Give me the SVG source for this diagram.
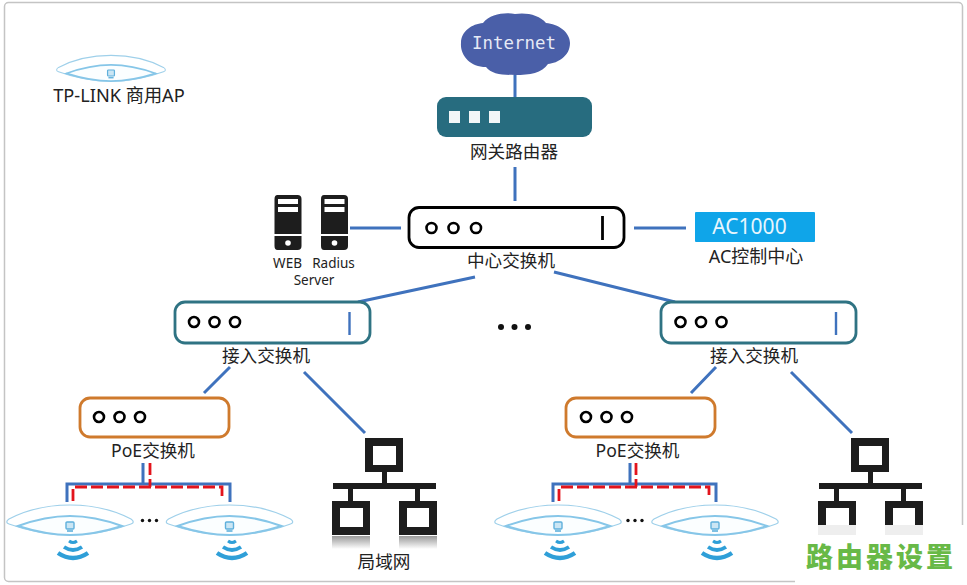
<svg xmlns="http://www.w3.org/2000/svg" width="967" height="585" viewBox="0 0 967 585">
<style>
text{font-family:"Noto Sans","Noto Sans CJK SC",sans-serif;fill:#222;text-anchor:middle;font-size:17.6px}
.c{stroke:#3f72bd;stroke-width:3;fill:none}
.d{fill:none;stroke:#000;stroke-width:2.6}
.b{fill:#fff;stroke-width:2.8}
.k{fill:#1d1d1d}
.r{fill:none;stroke:#e3141c;stroke-width:2.8;stroke-dasharray:12 4}
.s{font-size:13.5px}
</style>
<defs>
<g id="ap">
<path d="M-61,-3C-42,-13 -20,-17 0,-17C20,-17 42,-13 61,-3C64,-1 64,1 61,2C42,9 20,13 0,13C-20,13 -42,9 -61,2C-64,1 -64,-1 -61,-3Z" fill="#fff" stroke="#9fd0ea" stroke-width="1.200"/>
<path d="M-52,4C-30,-4 -12,-6 0,-6C12,-6 30,-4 52,4C30,11 14,13 0,13C-14,13 -30,11 -52,4Z" fill="#fbfeff" stroke="#86c6e8" stroke-width="2"/>
<rect x="-4" y="0" width="8" height="7" rx="1" fill="#cbe6f4" stroke="#5fb0dc" stroke-width="1.400"/>
<path d="M-3,9H3" stroke="#5fb0dc" stroke-width="1.600"/>
</g>
<g id="wifi" fill="none" stroke="#2f9fd8">
<path d="M-15,1Q0,11 15,1" stroke-width="4.400"/>
<path d="M-9,-5Q0,1 9,-5" stroke-width="3.800"/>
<path d="M-4,-11Q0,-8 4,-11" stroke-width="3"/>
</g>
<g id="srv">
<path d="M3,0H23Q27,0 27,4V39H0V4Q0,0 3,0Z" class="k"/>
<path d="M0,41H27V51Q27,55 23,55H3Q0,55 0,51Z" class="k"/>
<rect x="3.500" y="4" width="20" height="5" fill="#fff"/>
<rect x="3.500" y="12" width="20" height="5" fill="#fff"/>
<circle cx="13.500" cy="48" r="2.800" fill="#fff"/>
</g>
<g id="dots" class="d">
<circle cx="0" cy="0" r="5"/><circle cx="20.500" cy="0" r="5"/><circle cx="41" cy="0" r="5"/>
</g>
<linearGradient id="ref" x1="0" y1="0" x2="0" y2="1"><stop offset="0" stop-color="#999"/><stop offset="1" stop-color="#fff"/></linearGradient>
<path id="lan" fill-rule="evenodd" class="k" d="M33,0H71V34H55V45H104V51H88V63H105V97H67V63H83V51H21V63H38V97H0V63H16V51H1V45H50V34H33ZM41,8V27H64V8ZM8,70V89H31V70ZM75,70V89H97V70Z"/>
</defs>
<rect x="4.500" y="2.500" width="958" height="579" rx="4" fill="#fff" stroke="#c4c4c4" stroke-width="1.500"/>

<g id="connectors">
<path class="c" d="M515,75V97M515,167V201M350,228H401M634,228H686M475,277L358,302M554,272L675,302M230,367L204,393M304,372L365,433M716,367L691,393M791,372L852,433"/>
<path class="c" d="M143,463V484M67,502V484H230V502M630,463V484M553,502V484H716V502"/>
<path class="r" d="M150,463V487M73,501V487H222V496"/>
<path class="r" d="M636,463V487M559,501V487H709V496"/>
</g>

<g id="internet">
<path d="M486,67C470,67 460,55 461,43C461,31 472,24 483,23C490,14 505,12 515,14C526,12 540,15 546,23C558,24 570,32 570,43C570,56 558,63 548,64C542,73 530,75 515,75C502,75 491,74 486,67Z" fill="#4a5fa8"/>
<text x="514" y="49" style="font-family:'DejaVu Sans Mono',monospace;font-size:17.400px;fill:#e6eaf6">Internet</text>
</g>
<g id="router">
<rect x="437" y="97" width="155" height="40" rx="9" fill="#276c7f"/>
<rect x="449" y="111" width="11" height="12" fill="#f2f6f7"/><rect x="469" y="111" width="11" height="12" fill="#f2f6f7"/><rect x="489" y="111" width="11" height="12" fill="#f2f6f7"/>
<text x="514" y="158">网关路由器</text>
</g>
<g id="servers">
<use href="#srv" x="274.500" y="195"/><use href="#srv" x="321" y="195"/>
<text x="287.500" y="268" class="s">WEB</text>
<text x="333.500" y="268" class="s">Radius</text>
<text x="314" y="285" class="s">Server</text>
</g>
<g id="core">
<rect x="409" y="207.500" width="215" height="40" rx="10" class="b" stroke="#000"/>
<g class="d"><circle cx="431.500" cy="228" r="5"/><circle cx="453.500" cy="228" r="5"/><circle cx="476" cy="228" r="5"/></g>
<path d="M602.500,216V240" stroke="#000" stroke-width="2.800"/>
<text x="511" y="267">中心交换机</text>
</g>
<g id="ac">
<rect x="695" y="212" width="120" height="30" rx="1" fill="#0fa5e9"/>
<text x="749.500" y="234" style="font-size:21px;fill:#e8f6fd">AC1000</text>
<text x="756" y="263" style="font-size:18px">AC控制中心</text>
</g>
<g id="access1">
<rect x="175" y="302" width="195" height="41" rx="10" class="b" stroke="#2f7383"/>
<use href="#dots" x="194" y="322"/>
<path d="M349.500,312V335" stroke="#3f72bd" stroke-width="2.400"/>
<text x="266" y="362">接入交换机</text>
</g>
<g id="access2">
<rect x="661" y="302" width="195" height="41" rx="10" class="b" stroke="#2f7383"/>
<use href="#dots" x="680.500" y="322"/>
<path d="M836,312V335" stroke="#3f72bd" stroke-width="2.400"/>
<text x="754" y="362">接入交换机</text>
</g>
<g id="gap" fill="#111"><circle cx="501" cy="327" r="3"/><circle cx="514.500" cy="327" r="3"/><circle cx="528" cy="327" r="3"/></g>
<g id="poe1">
<rect x="80" y="398" width="149" height="39" rx="10" class="b" stroke="#cf7a2d"/>
<use href="#dots" x="99" y="417"/>
<text x="153" y="457">PoE交换机</text>
</g>
<g id="poe2">
<rect x="566" y="398" width="149" height="39" rx="10" class="b" stroke="#cf7a2d"/>
<use href="#dots" x="586" y="417"/>
<text x="637.500" y="457">PoE交换机</text>
</g>
<g id="apLegend"><use href="#ap" transform="translate(111,70) scale(.86)"/><text x="119" y="102" style="font-size:18.200px">TP-LINK 商用AP</text></g>
<g id="ap1"><use href="#ap" x="70" y="522"/><use href="#wifi" x="73" y="552"/></g>
<g id="ap2"><use href="#ap" x="229.500" y="522"/><use href="#wifi" x="232" y="552"/></g>
<g id="ap3"><use href="#ap" x="558" y="522"/><use href="#wifi" x="560" y="552"/></g>
<g id="ap4"><use href="#ap" x="715" y="522"/><use href="#wifi" x="717" y="552"/></g>
<g id="d1" fill="#111"><circle cx="142.500" cy="520.500" r="1.700"/><circle cx="149.500" cy="520.500" r="1.700"/><circle cx="156.500" cy="520.500" r="1.700"/></g>
<g id="d2" fill="#111"><circle cx="628" cy="520.500" r="1.700"/><circle cx="635" cy="520.500" r="1.700"/><circle cx="642" cy="520.500" r="1.700"/></g>
<g id="lan1">
<use href="#lan" x="332" y="438"/>
<rect x="332" y="536" width="38" height="13" fill="url(#ref)"/><rect x="399" y="536" width="38" height="13" fill="url(#ref)"/>
<text x="384" y="568">局域网</text>
</g>
<g id="lan2">
<use href="#lan" x="818" y="438"/>
<rect x="795" y="525" width="172" height="60" fill="#fff"/>
<rect x="818" y="525" width="38" height="10" fill="#eee"/><rect x="885" y="525" width="38" height="10" fill="#eee"/>
</g>
<g id="watermark">
<text x="881" y="567" style="font-family:'Noto Sans CJK SC',sans-serif;font-size:27px;font-weight:900;fill:#68b947;letter-spacing:3px">路由器设置</text>
</g>
</svg>
